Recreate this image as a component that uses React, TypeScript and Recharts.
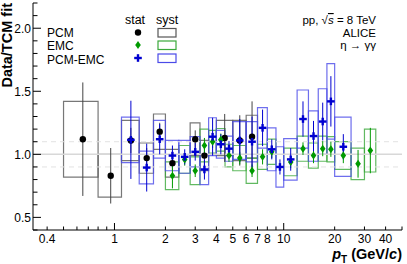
import React from 'react';
import { ComposedChart, XAxis, YAxis, Scatter, ErrorBar, ReferenceArea, ReferenceLine } from 'recharts';

const FONT = '"Liberation Sans", Arial, Helvetica, sans-serif';

// x axis (log) ticks
const xTicks = [0.4, 0.5, 0.6, 0.7, 0.8, 0.9, 1, 2, 3, 4, 5, 6, 7, 8, 9, 10, 20, 30, 40, 50];
const xLabels = [0.4, 1, 2, 3, 4, 5, 6, 7, 8, 10, 20, 30, 40];
const xMajor = [1, 10];
const yTicks = [0.4, 0.5, 0.6, 0.7, 0.8, 0.9, 1.0, 1.1, 1.2, 1.3, 1.4, 1.5, 1.6, 1.7, 1.8, 1.9, 2.0, 2.1, 2.2];
const yLabels = [0.5, 1.0, 1.5, 2.0];

// PCM
const pcmLo = [0.5, 0.8, 1.1, 1.4, 1.7, 2.0, 2.8, 3.2, 4.0, 5.0, 6.0];
const pcmHi = [0.8, 1.1, 1.4, 1.7, 2.0, 2.4, 3.2, 3.6, 5.0, 6.0, 7.0];
const pcmX = [0.65, 0.95, 1.25, 1.55, 1.85, 2.2, 3.0, 3.4, 4.48, 5.5, 6.5];
const pcmY = [1.12, 0.83, 1.11, 0.97, 1.18, 0.93, 1.12, 0.99, 1.13, 1.11, 1.14];
const pcmStat = [0.45, 0.22, 0.1, 0.08, 0.07, 0.06, 0.07, 0.08, 0.19, 0.2, 0.28];
const pcmSyst = [0.3, 0.17, 0.16, 0.12, 0.14, 0.11, 0.13, 0.12, 0.14, 0.16, 0.17];

// EMC
const emcLo = [2.0, 2.4, 2.8, 3.2, 3.6, 4.0, 4.5, 5.0, 6.0, 7.0, 8.0, 10, 12, 14, 16, 18, 20, 25, 30];
const emcHi = [2.4, 2.8, 3.2, 3.6, 4.0, 4.5, 5.0, 6.0, 7.0, 8.0, 9.0, 12, 14, 16, 18, 20, 25, 30, 35];
const emcX = [2.2, 2.6, 3.0, 3.4, 3.8, 4.25, 4.75, 5.5, 6.5, 7.5, 8.5, 11, 13, 15, 17, 19, 22.5, 27.5, 32.5];
const emcY = [0.83, 0.96, 0.87, 1.07, 1.1, 1.115, 0.99, 0.97, 0.87, 0.98, 1.02, 0.94, 1.045, 0.99, 1.045, 1.04, 0.99, 0.925, 1.03];
const emcStat = [0.1, 0.05, 0.05, 0.06, 0.05, 0.05, 0.05, 0.05, 0.05, 0.06, 0.05, 0.05, 0.05, 0.06, 0.06, 0.06, 0.06, 0.11, 0.18];
const emcSyst = [0.11, 0.11, 0.11, 0.13, 0.09, 0.09, 0.09, 0.1, 0.1, 0.1, 0.1, 0.11, 0.1, 0.1, 0.1, 0.1, 0.11, 0.125, 0.17];

// PCM-EMC
const mixLo = [1.1, 1.4, 1.7, 2.0, 2.4, 2.8, 3.2, 3.6, 4.0, 4.5, 5.0, 6.0, 7.0, 8.0, 9.0, 10, 12, 14, 16, 18, 20];
const mixHi = [1.4, 1.7, 2.0, 2.4, 2.8, 3.2, 3.6, 4.0, 4.5, 5.0, 6.0, 7.0, 8.0, 9.0, 10, 12, 14, 16, 18, 20, 25];
const mixX = [1.25, 1.55, 1.85, 2.2, 2.6, 3.0, 3.4, 3.8, 4.25, 4.75, 5.5, 6.5, 7.5, 8.5, 9.5, 11, 13, 15, 17, 19, 22.5];
const mixY = [1.115, 0.895, 1.12, 0.99, 0.98, 1.02, 0.88, 1.14, 1.08, 1.045, 1.11, 1.1, 1.21, 1.04, 0.9, 0.96, 1.28, 1.145, 1.26, 1.42, 1.06];
const mixStat = [0.31, 0.19, 0.12, 0.08, 0.06, 0.07, 0.08, 0.15, 0.08, 0.06, 0.17, 0.2, 0.145, 0.08, 0.06, 0.09, 0.14, 0.12, 0.15, 0.2, 0.1];
const mixSyst = [0.18, 0.13, 0.15, 0.12, 0.13, 0.12, 0.12, 0.15, 0.11, 0.1, 0.15, 0.16, 0.16, 0.17, 0.16, 0.165, 0.23, 0.2, 0.26, 0.3, 0.235];

const build = (xs: number[], ys: number[], es: number[]) => xs.map((x, i) => ({ x, y: ys[i], e: es[i] }));
const pcmData = build(pcmX, pcmY, pcmStat);
const emcData = build(emcX, emcY, emcStat);
const mixData = build(mixX, mixY, mixStat);

const C_PCM = '#000000';
const C_PCM_BOX = '#555555';
const C_EMC = '#009a00';
const C_EMC_BOX = '#3aa83a';
const C_MIX = '#0000d0';
const C_MIX_BOX = '#4a4ae8';

const BottomTick = (p: any) => {
  const v = p.payload.value;
  const len = xMajor.includes(v) ? 7 : 3.5;
  return (
    <g>
      <line x1={p.x} x2={p.x} y1={p.y} y2={p.y - len} stroke="#000" strokeWidth={1} />
      {xLabels.includes(v) && (
        <text x={p.x} y={p.y + 12.5} textAnchor="middle" fontSize={12} fontFamily={FONT} fill="#000">{String(v)}</text>
      )}
    </g>
  );
};
const TopTick = (p: any) => {
  const v = p.payload.value;
  const len = xMajor.includes(v) ? 7 : 3.5;
  return <line x1={p.x} x2={p.x} y1={p.y} y2={p.y + len} stroke="#000" strokeWidth={1} />;
};
const LeftTick = (p: any) => {
  const v = p.payload.value;
  const major = yLabels.includes(v);
  return (
    <g>
      <line x1={p.x} x2={p.x + (major ? 8 : 4.5)} y1={p.y} y2={p.y} stroke="#000" strokeWidth={1} />
      {major && (
        <text x={p.x - 2} y={p.y + 4.5} textAnchor="end" fontSize={12} fontFamily={FONT} fill="#000">{v.toFixed(1)}</text>
      )}
    </g>
  );
};
const RightTick = (p: any) => {
  const v = p.payload.value;
  const major = yLabels.includes(v);
  return <line x1={p.x} x2={p.x - (major ? 8 : 4.5)} y1={p.y} y2={p.y} stroke="#000" strokeWidth={1} />;
};

const Dot = (p: any) => <circle cx={p.cx} cy={p.cy} r={3.2} fill={C_PCM} />;
const Diamond = (p: any) => (
  <polygon
    points={`${p.cx},${p.cy - 4} ${p.cx + 2.8},${p.cy} ${p.cx},${p.cy + 4} ${p.cx - 2.8},${p.cy}`}
    fill={C_EMC}
  />
);
const Cross = (p: any) => (
  <g fill={C_MIX}>
    <rect x={p.cx - 3.8} y={p.cy - 1.2} width={7.6} height={2.4} />
    <rect x={p.cx - 1.2} y={p.cy - 3.8} width={2.4} height={7.6} />
  </g>
);

const boxes = (lo: number[], hi: number[], ys: number[], ss: number[], color: string, key: string) =>
  lo.map((l, i) => (
    <ReferenceArea
      key={key + i}
      x1={l}
      x2={hi[i]}
      y1={ys[i] - ss[i]}
      y2={ys[i] + ss[i]}
      fill="none"
      fillOpacity={0}
      stroke={color}
      strokeOpacity={0.8}
      strokeWidth={1.2}
      ifOverflow="visible"
    />
  ));

export default function App() {
  return (
    <div style={{ position: 'absolute', left: 0, top: 0, width: 407, height: 264, background: '#fff' }}>
      <ComposedChart width={407} height={264} margin={{ top: 3, right: 5, left: 0, bottom: 0 }}>
        <XAxis
          dataKey="x"
          type="number"
          scale="log"
          domain={[0.33, 50]}
          allowDataOverflow
          ticks={xTicks}
          interval={0}
          tickSize={0}
          tickMargin={0}
          tickLine={false}
          tick={<BottomTick />}
          height={34}
          axisLine={{ stroke: '#000' }}
        />
        <XAxis
          xAxisId="top"
          orientation="top"
          type="number"
          scale="log"
          domain={[0.33, 50]}
          allowDataOverflow
          ticks={xTicks}
          interval={0}
          tickSize={0}
          tickMargin={0}
          tickLine={false}
          tick={<TopTick />}
          height={0}
          axisLine={{ stroke: '#000' }}
        />
        <YAxis
          type="number"
          domain={[0.4, 2.2]}
          allowDataOverflow
          ticks={yTicks}
          interval={0}
          tickSize={0}
          tickMargin={0}
          tickLine={false}
          tick={<LeftTick />}
          width={33}
          axisLine={{ stroke: '#000' }}
        />
        <YAxis
          yAxisId="right"
          orientation="right"
          type="number"
          domain={[0.4, 2.2]}
          allowDataOverflow
          ticks={yTicks}
          interval={0}
          tickSize={0}
          tickMargin={0}
          tickLine={false}
          tick={<RightTick />}
          width={0}
          axisLine={{ stroke: '#000' }}
        />
        <ReferenceLine y={1.0} stroke="#d8d8d8" strokeWidth={1.5} />
        <ReferenceLine y={1.1} stroke="#e2e2e2" strokeDasharray="5 4" />
        <ReferenceLine y={0.9} stroke="#e2e2e2" strokeDasharray="5 4" />
        {boxes(pcmLo, pcmHi, pcmY, pcmSyst, C_PCM_BOX, 'p')}
        {boxes(emcLo, emcHi, emcY, emcSyst, C_EMC_BOX, 'e')}
        {boxes(mixLo, mixHi, mixY, mixSyst, C_MIX_BOX, 'm')}
        <Scatter data={pcmData} dataKey="y" shape={<Dot />} isAnimationActive={false}>
          <ErrorBar dataKey="e" direction="y" width={0} stroke="#444" strokeWidth={1} />
        </Scatter>
        <Scatter data={emcData} dataKey="y" shape={<Diamond />} isAnimationActive={false}>
          <ErrorBar dataKey="e" direction="y" width={0} stroke={C_EMC} strokeWidth={1} />
        </Scatter>
        <Scatter data={mixData} dataKey="y" shape={<Cross />} isAnimationActive={false}>
          <ErrorBar dataKey="e" direction="y" width={0} stroke={C_MIX} strokeWidth={1} />
        </Scatter>
      </ComposedChart>
      <svg width={407} height={264} style={{ position: 'absolute', left: 0, top: 0, pointerEvents: 'none' }}>
        <g fontFamily={FONT} fill="#000">
          <text x={12} y={3} transform="rotate(-90 12 3)" textAnchor="end" fontSize={14.5} fontWeight="bold">
            Data/TCM fit
          </text>
          <text x={402} y={258.5} textAnchor="end" fontSize={14.5} fontWeight="bold">
            <tspan fontStyle="italic">p</tspan>
            <tspan fontSize={10} dy={4}>T</tspan>
            <tspan dy={-4}> (GeV/</tspan>
            <tspan fontStyle="italic">c</tspan>
            <tspan>)</tspan>
          </text>
          <text x={135} y={23.5} textAnchor="middle" fontSize={12.5}>stat</text>
          <text x={167} y={23.5} textAnchor="middle" fontSize={12.5}>syst</text>
          <text x={47} y={36.5} fontSize={12}>PCM</text>
          <text x={47} y={50} fontSize={12}>EMC</text>
          <text x={47} y={63.5} fontSize={12}>PCM-EMC</text>
          <text x={376} y={24} textAnchor="end" fontSize={11.5}>
            pp, √<tspan fontStyle="italic" textDecoration="overline">s</tspan> = 8 TeV
          </text>
          <text x={376} y={36.5} textAnchor="end" fontSize={11.5}>ALICE</text>
          <text x={376} y={49} textAnchor="end" fontSize={11.5}>η → γγ</text>
        </g>
        <circle cx={138} cy={32.5} r={3.2} fill={C_PCM} />
        <polygon points="138,41 140.8,45 138,49 135.2,45" fill={C_EMC} />
        <rect x={134.2} y={56.8} width={7.6} height={2.4} fill={C_MIX} />
        <rect x={136.8} y={54.2} width={2.4} height={7.6} fill={C_MIX} />
        <rect x={158} y={28.5} width={18} height={8.5} fill="none" stroke={C_PCM_BOX} strokeWidth={1.2} />
        <rect x={158} y={41} width={18} height={8.5} fill="none" stroke={C_EMC_BOX} strokeWidth={1.2} />
        <rect x={158} y={54} width={18} height={8.5} fill="none" stroke={C_MIX_BOX} strokeWidth={1.2} />
      </svg>
    </div>
  );
}
